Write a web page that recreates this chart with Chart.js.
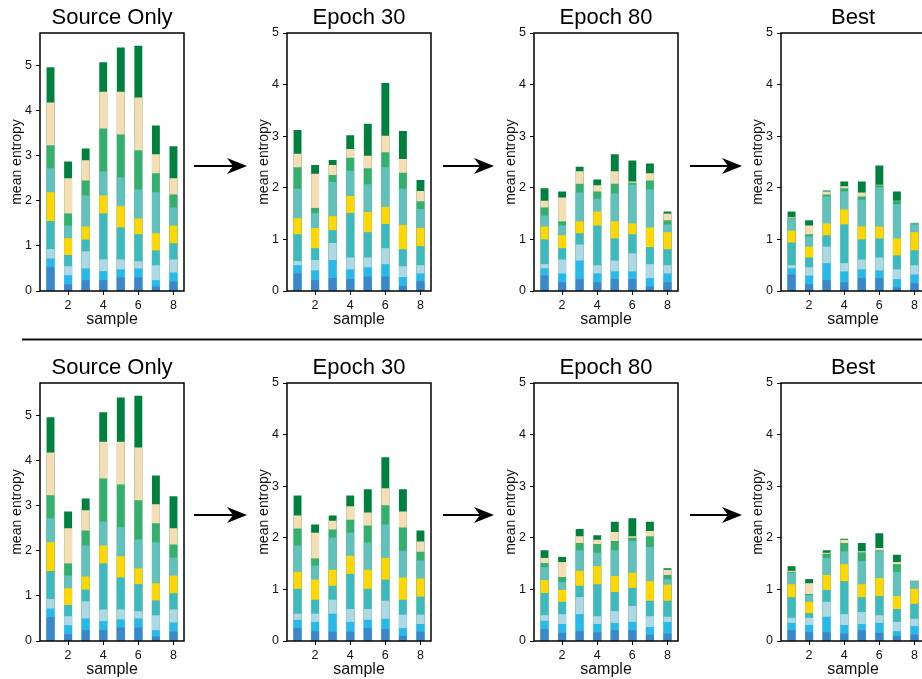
<!DOCTYPE html>
<html>
<head>
<meta charset="utf-8">
<script src="https://cdn.jsdelivr.net/npm/chart.js@4.4.1/dist/chart.umd.min.js"></script>
<style>
  html, body { margin: 0; padding: 0; background: #fff; width: 922px; height: 679px; overflow: hidden; }
  canvas.panel { position: absolute; }
  #deco { position: absolute; left: 0; top: 0; pointer-events: none; }
</style>
</head>
<body>
<svg id="deco" width="922" height="679"></svg>
<script>
// samples on the x axis and the tick labels
const samples = [1, 2, 3, 4, 5, 6, 7, 8];
const xTicks = [2, 4, 6, 8];
const yTicks = [0, 1, 2, 3, 4, 5];

// stack layers, bottom to top
const layerColors = ['#3b87c9', '#27b9ec', '#add8e6', '#3bbac3', '#ffd700',
                     '#62c1bd', '#33b06f', '#f5deb3', '#00803e'];

// cumulative top of each layer, per sample
const sourceOnly = [
  [0.53, 0.15, 0.24, 0.24, 0.30, 0.30, 0.10, 0.21],
  [0.72, 0.35, 0.50, 0.44, 0.48, 0.50, 0.24, 0.41],
  [0.93, 0.55, 0.88, 0.70, 0.70, 0.66, 0.57, 0.70],
  [1.55, 0.80, 1.14, 1.72, 1.41, 1.26, 0.90, 1.06],
  [2.19, 1.17, 1.43, 2.12, 1.88, 1.61, 1.28, 1.45],
  [2.72, 1.45, 2.12, 2.65, 2.52, 2.25, 2.19, 1.85],
  [3.23, 1.72, 2.45, 3.60, 3.47, 3.12, 2.61, 2.14],
  [4.18, 2.50, 2.90, 4.42, 4.42, 4.29, 3.03, 2.50],
  [4.96, 2.87, 3.16, 5.07, 5.40, 5.44, 3.67, 3.21]
];

const epoch30Top = [
  [0.34, 0.21, 0.25, 0.23, 0.28, 0.28, 0.10, 0.19],
  [0.50, 0.40, 0.60, 0.42, 0.46, 0.52, 0.27, 0.34],
  [0.58, 0.60, 0.93, 0.65, 0.65, 0.83, 0.48, 0.50],
  [1.10, 0.83, 1.18, 1.51, 1.14, 1.30, 0.81, 0.87],
  [1.41, 1.22, 1.45, 1.84, 1.53, 1.63, 1.28, 1.22],
  [1.98, 1.51, 2.11, 2.33, 2.07, 2.40, 1.98, 1.59],
  [2.40, 1.61, 2.25, 2.58, 2.38, 2.69, 2.29, 1.74],
  [2.66, 2.27, 2.44, 2.75, 2.62, 3.01, 2.56, 1.94],
  [3.12, 2.44, 2.54, 3.02, 3.24, 4.03, 3.10, 2.15]
];

const epoch80Top = [
  [0.30, 0.17, 0.23, 0.17, 0.23, 0.23, 0.09, 0.17],
  [0.44, 0.34, 0.59, 0.34, 0.38, 0.38, 0.25, 0.34],
  [0.52, 0.61, 0.90, 0.50, 0.59, 0.73, 0.52, 0.50],
  [1.00, 0.83, 1.12, 1.27, 1.02, 1.10, 0.85, 0.81],
  [1.25, 1.08, 1.35, 1.54, 1.35, 1.31, 1.23, 1.14],
  [1.46, 1.27, 1.91, 1.79, 1.89, 2.06, 1.97, 1.29],
  [1.62, 1.35, 2.08, 1.93, 2.08, 2.10, 2.14, 1.37],
  [1.75, 1.81, 2.32, 2.05, 2.32, 2.12, 2.28, 1.50],
  [1.99, 1.93, 2.41, 2.16, 2.65, 2.53, 2.47, 1.54]
];

const bestTop = [
  [0.32, 0.13, 0.21, 0.17, 0.25, 0.25, 0.07, 0.15],
  [0.44, 0.30, 0.54, 0.38, 0.42, 0.40, 0.23, 0.32],
  [0.50, 0.46, 0.86, 0.54, 0.61, 0.65, 0.42, 0.50],
  [0.94, 0.65, 1.08, 1.29, 1.00, 1.02, 0.69, 0.79],
  [1.17, 0.86, 1.31, 1.58, 1.25, 1.25, 1.02, 1.14],
  [1.39, 1.06, 1.83, 1.93, 1.77, 2.01, 1.68, 1.29],
  [1.41, 1.10, 1.87, 1.99, 1.83, 2.05, 1.75, 1.31],
  [1.43, 1.27, 1.93, 2.03, 1.91, 2.06, 1.75, 1.31],
  [1.54, 1.37, 1.95, 2.12, 2.12, 2.43, 1.93, 1.32]
];

const epoch30Bottom = [
  [0.25, 0.19, 0.18, 0.18, 0.25, 0.23, 0.10, 0.18],
  [0.41, 0.37, 0.53, 0.37, 0.41, 0.43, 0.25, 0.33],
  [0.53, 0.53, 0.80, 0.62, 0.62, 0.78, 0.51, 0.51],
  [1.01, 0.80, 1.07, 1.30, 1.01, 1.19, 0.80, 0.86],
  [1.34, 1.19, 1.38, 1.65, 1.38, 1.61, 1.23, 1.21],
  [1.85, 1.46, 2.00, 2.10, 1.91, 2.26, 1.75, 1.56],
  [2.18, 1.60, 2.16, 2.35, 2.24, 2.63, 2.20, 1.73],
  [2.43, 2.10, 2.33, 2.61, 2.49, 2.96, 2.51, 1.93],
  [2.82, 2.26, 2.43, 2.82, 2.94, 3.56, 2.94, 2.14]
];

const epoch80Bottom = [
  [0.23, 0.16, 0.19, 0.17, 0.21, 0.21, 0.12, 0.14],
  [0.39, 0.33, 0.52, 0.33, 0.35, 0.37, 0.27, 0.37],
  [0.50, 0.52, 0.85, 0.48, 0.58, 0.68, 0.48, 0.47],
  [0.93, 0.76, 1.07, 1.10, 0.95, 1.03, 0.78, 0.78],
  [1.18, 0.99, 1.36, 1.45, 1.26, 1.32, 1.16, 1.09],
  [1.43, 1.14, 1.76, 1.71, 1.76, 1.94, 1.82, 1.20],
  [1.51, 1.24, 1.90, 1.88, 1.94, 2.00, 2.03, 1.28],
  [1.61, 1.53, 2.03, 1.96, 2.11, 2.03, 2.13, 1.38],
  [1.76, 1.63, 2.17, 2.05, 2.31, 2.38, 2.31, 1.41]
];

const bestBottom = [
  [0.21, 0.17, 0.17, 0.14, 0.21, 0.16, 0.10, 0.12],
  [0.35, 0.31, 0.47, 0.31, 0.33, 0.35, 0.19, 0.29],
  [0.45, 0.45, 0.76, 0.52, 0.56, 0.50, 0.37, 0.43],
  [0.85, 0.54, 0.99, 1.16, 0.85, 0.87, 0.62, 0.72],
  [1.10, 0.76, 1.28, 1.49, 1.10, 1.22, 0.87, 1.01],
  [1.32, 0.89, 1.61, 1.74, 1.55, 1.74, 1.34, 1.16],
  [1.34, 0.91, 1.69, 1.90, 1.72, 1.76, 1.49, 1.16],
  [1.36, 1.12, 1.71, 1.96, 1.74, 1.80, 1.53, 1.18],
  [1.45, 1.20, 1.76, 1.98, 1.90, 2.09, 1.67, 1.18]
];

// panel layout: plot area left/top in page pixels
const colLefts = [40, 287, 534, 781];
const rowTops = [33, 383];
const plotW = 144, plotH = 258;

const panels = [
  { title: 'Source Only', data: sourceOnly,    yMax: 5.72, col: 0, row: 0 },
  { title: 'Epoch 30',    data: epoch30Top,    yMax: 5,    col: 1, row: 0 },
  { title: 'Epoch 80',    data: epoch80Top,    yMax: 5,    col: 2, row: 0 },
  { title: 'Best',        data: bestTop,       yMax: 5,    col: 3, row: 0 },
  { title: 'Source Only', data: sourceOnly,    yMax: 5.72, col: 0, row: 1 },
  { title: 'Epoch 30',    data: epoch30Bottom, yMax: 5,    col: 1, row: 1 },
  { title: 'Epoch 80',    data: epoch80Bottom, yMax: 5,    col: 2, row: 1 },
  { title: 'Best',        data: bestBottom,    yMax: 5,    col: 3, row: 1 }
];

Chart.defaults.font.family = '"Liberation Sans", Arial, sans-serif';
Chart.defaults.color = '#111';

// full box around the plot, like matplotlib spines
const frame = {
  id: 'frame',
  afterDraw(chart) {
    const { ctx, chartArea: a } = chart;
    ctx.save();
    ctx.strokeStyle = '#000';
    ctx.lineWidth = 1.5;
    ctx.strokeRect(a.left, a.top, a.right - a.left, a.bottom - a.top);
    ctx.restore();
  }
};

const axisLeft = 40, titleH = 33, xAxisH = 40, padRight = 6;

panels.forEach((p) => {
  const cv = document.createElement('canvas');
  cv.className = 'panel';
  cv.width = axisLeft + plotW + padRight;
  cv.height = titleH + plotH + xAxisH;
  cv.style.left = (colLefts[p.col] - axisLeft) + 'px';
  cv.style.top = (rowTops[p.row] - titleH) + 'px';
  document.body.appendChild(cv);

  new Chart(cv, {
    type: 'bar',
    data: {
      labels: samples,
      datasets: p.data.map((vals, i) => ({
        data: vals,
        backgroundColor: layerColors[i],
        borderWidth: 0,
        grouped: false,
        categoryPercentage: 1,
        barPercentage: 0.45
      }))
    },
    options: {
      responsive: false,
      animation: false,
      layout: { padding: { left: 0, right: padRight, top: 0, bottom: 0 } },
      plugins: {
        legend: { display: false },
        tooltip: { enabled: false },
        title: {
          display: true,
          text: p.title,
          fullSize: false,
          color: '#000',
          font: { size: 22, weight: 'normal' },
          padding: { top: 5, bottom: 1.6 }
        }
      },
      scales: {
        x: {
          type: 'linear',
          min: 0.4,
          max: 8.6,
          offset: false,
          afterBuildTicks: (s) => { s.ticks = xTicks.map((v) => ({ value: v })); },
          afterFit: (s) => { s.height = xAxisH; },
          grid: { drawOnChartArea: false, offset: false, tickLength: 4, color: '#000' },
          border: { display: false },
          ticks: { padding: 3, maxRotation: 0, color: '#111', font: { size: 12.5 } },
          title: { display: true, text: 'sample', color: '#111', font: { size: 16 }, padding: { top: 0, bottom: 2 } }
        },
        y: {
          min: 0,
          max: p.yMax,
          afterBuildTicks: (s) => { s.ticks = yTicks.map((v) => ({ value: v })); },
          afterFit: (s) => { s.width = axisLeft; },
          grid: { drawOnChartArea: false, tickLength: 4, color: '#000' },
          border: { display: false },
          ticks: { padding: 4, color: '#111', font: { size: 12.5 } },
          title: { display: true, text: 'mean entropy', color: '#111', font: { size: 14 }, padding: { top: 9, bottom: 0 } }
        }
      }
    },
    plugins: [frame]
  });
});

// arrows between panels and the divider line
const svg = document.getElementById('deco');
const ns = 'http://www.w3.org/2000/svg';
function add(tag, attrs) {
  const el = document.createElementNS(ns, tag);
  Object.entries(attrs).forEach(([k, v]) => el.setAttribute(k, v));
  svg.appendChild(el);
}
add('line', { x1: 22, y1: 339.5, x2: 922, y2: 339.5, stroke: '#111', 'stroke-width': 2 });
[[194, 247], [443, 494], [690, 742]].forEach(([x0, x1]) => {
  [166, 515].forEach((y) => {
    add('line', { x1: x0, y1: y, x2: x1 - 14, y2: y, stroke: '#000', 'stroke-width': 2 });
    add('polygon', { points: `${x1},${y} ${x1 - 20},${y - 8} ${x1 - 14},${y} ${x1 - 20},${y + 8}`, fill: '#000' });
  });
});
</script>
</body>
</html>
